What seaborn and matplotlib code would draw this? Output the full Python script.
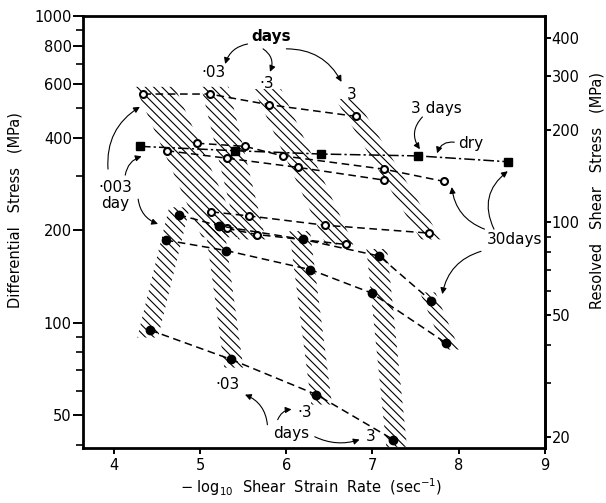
import matplotlib
matplotlib.use('Agg')
import matplotlib.pyplot as plt
from matplotlib.ticker import LogLocator, NullFormatter
import seaborn as sns

# open circles (wet), upper group
rate_a = [4.34, 5.11, 5.80, 6.81]
stress_a = [557, 557, 514, 471]
rate_b = [4.96, 5.52, 5.96, 7.13, 7.83]
stress_b = [385, 376, 350, 317, 289]
rate_c = [4.61, 5.31, 6.14, 7.13]
stress_c = [364, 344, 321, 292]
rate_d = [5.13, 5.57, 6.45, 7.66]
stress_d = [230, 223, 208, 196]
rate_e = [5.31, 5.66, 6.69]
stress_e = [203, 194, 180]

# dry (squares)
rate_dry = [4.30, 5.40, 6.40, 7.53, 8.57]
stress_dry = [376, 364, 355, 350, 335]

# filled circles, lower group
rate_f = [4.75, 5.22, 6.19, 7.08, 7.68]
stress_f = [225, 207, 187, 165, 118]
rate_g = [4.60, 5.30, 6.28, 6.99, 7.85]
stress_g = [186, 172, 149, 125, 86]
rate_h = [4.42, 5.36, 6.35, 7.24]
stress_h = [94.6, 75.9, 58.3, 41.6]

# hatched isochron bands: top / bottom centre and half width (in rate units)
band_x_top = [4.475, 5.17, 5.78, 6.69, 4.76, 5.16, 6.155, 7.05, 7.64]
band_y_top = [588, 588, 578, 537, 238, 214, 199, 174, 125.6]
band_x_bot = [5.25, 5.60, 6.62, 7.68, 4.39, 5.39, 6.41, 7.28, 7.92]
band_y_bot = [190, 187, 180, 187, 89.5, 71.4, 54.1, 39.4, 81.8]
band_hw = [0.23, 0.16, 0.16, 0.12, 0.12, 0.11, 0.12, 0.12, 0.09]

RATIO = 0.471  # resolved shear / differential stress

left_ticks = [50, 100, 200, 400, 600, 800, 1000]
right_ticks = [20, 50, 100, 200, 300, 400]
x_ticks = [4, 5, 6, 7, 8, 9]

sns.set_theme(style='white')
plt.rcParams['font.family'] = ['DejaVu Sans']
plt.rcParams['hatch.linewidth'] = 0.8
for k in ['text.color', 'axes.labelcolor', 'xtick.color', 'ytick.color']:
    plt.rcParams[k] = 'black'

fig = plt.figure(figsize=(6.06, 5.03), dpi=100)
ax = fig.add_axes([0.137, 0.109, 0.762, 0.859])
ax.set_yscale('log')

for xt, yt, xb, yb, hw in zip(band_x_top, band_y_top, band_x_bot, band_y_bot, band_hw):
    ax.fill([xt - hw, xt + hw, xb + hw, xb - hw], [yt, yt, yb, yb],
            facecolor='none', edgecolor='black', hatch='\\\\\\\\', linewidth=0, zorder=1)

dash = (0, (5, 3))
open_kw = dict(color='black', lw=1.1, ls=dash, marker='o', ms=5, mfc='white', mec='black', mew=1.5)
fill_kw = dict(color='black', lw=1.1, ls=dash, marker='o', ms=6, mfc='black', mec='black', mew=1)

for rx, sy in [(rate_a, stress_a), (rate_b, stress_b), (rate_c, stress_c),
               (rate_d, stress_d), (rate_e, stress_e)]:
    sns.lineplot(x=rx, y=sy, ax=ax, estimator=None, zorder=3, **open_kw)
for rx, sy in [(rate_f, stress_f), (rate_g, stress_g), (rate_h, stress_h)]:
    sns.lineplot(x=rx, y=sy, ax=ax, estimator=None, zorder=3, **fill_kw)
sns.lineplot(x=rate_dry, y=stress_dry, ax=ax, estimator=None, zorder=3, color='black', lw=1.1,
             ls=(0, (7, 2, 1.5, 2)), marker='s', ms=6, mfc='black', mec='black', mew=1)

ax.set_xlim(3.64, 9.0)
ax.set_ylim(39, 1000)
ax.set_xticks(x_ticks)
ax.set_xticklabels([str(v) for v in x_ticks])
ax.set_yticks(left_ticks)
ax.set_yticklabels([str(v) for v in left_ticks])
ax.yaxis.set_minor_locator(LogLocator(base=10, subs=range(2, 10), numticks=20))
ax.yaxis.set_minor_formatter(NullFormatter())

for s in ax.spines.values():
    s.set_linewidth(2)
    s.set_color('black')
ax.tick_params(axis='y', which='major', direction='out', length=7, width=1.4, pad=1, labelsize=10.5, left=True)
ax.tick_params(axis='y', which='minor', direction='out', length=5, width=1.2, left=True)
ax.tick_params(axis='x', which='major', direction='out', length=4, width=1.4, pad=3, labelsize=10.5, bottom=True)

sec = ax.secondary_yaxis('right', functions=(lambda v: v * RATIO, lambda v: v / RATIO))
sec.set_yticks(right_ticks)
sec.set_yticklabels([str(v) for v in right_ticks])
sec.yaxis.set_minor_locator(LogLocator(base=10, subs=range(2, 10), numticks=20))
sec.yaxis.set_minor_formatter(NullFormatter())
sec.spines['right'].set_linewidth(2)
sec.tick_params(axis='y', which='major', direction='out', length=4, width=1.4, pad=1, labelsize=10.5)
sec.tick_params(axis='y', which='minor', direction='out', length=4, width=1.2)

ax.set_ylabel('Differential   Stress   (MPa)', fontsize=10.5)
ax.yaxis.set_label_coords(-0.13, 0.551)
sec.set_ylabel('Resolved   Shear   Stress   (MPa)', fontsize=10.5, rotation=90)
sec.yaxis.set_label_coords(1.097, 0.597, transform=ax.transAxes)
ax.set_xlabel(r'$-$ log$_{10}$  Shear  Strain  Rate  (sec$^{-1}$)', fontsize=10.5)
ax.xaxis.set_label_coords(0.494, -0.066)

# text labels
label_text = ['days', '·03', '·3', '3', '3 days', 'dry', '30days', '·003', 'day',
              '·03', '·3', 'days', '3']
label_x = [5.82, 5.15, 5.77, 6.76, 7.74, 8.14, 8.65, 4.02, 4.01, 5.32, 6.21, 6.06, 6.98]
label_y = [855, 653, 601, 557, 498, 383, 187, 277, 245, 62.8, 50.9, 43.5, 42.5]
for t, lx, ly in zip(label_text, label_x, label_y):
    ax.text(lx, ly, t, fontsize=11, ha='center', va='center', zorder=5,
            fontweight='bold' if t == 'days' and ly > 500 else 'normal')

# wavy pointer arrows
arrow_from = [(5.55, 811), (5.73, 782), (6.00, 782), (3.93, 317), (4.13, 303), (4.28, 253),
              (7.58, 469), (7.95, 388), (8.30, 202), (8.41, 202), (8.26, 171),
              (5.78, 46.5), (5.90, 48.3), (6.33, 42.5)]
arrow_to = [(5.29, 698), (5.81, 658), (6.64, 610), (4.30, 506), (4.32, 349), (4.51, 210),
            (7.55, 368), (7.75, 357), (7.92, 277), (8.57, 312), (7.81, 124),
            (5.52, 58.3), (6.06, 52.2), (6.85, 41.6)]
arrow_rad = [0.3, -0.4, -0.3, -0.3, -0.3, 0.3, 0.4, 0.4, -0.3, -0.4, 0.3, 0.3, -0.3, 0.2]
for (x0, y0), (x1, y1), rad in zip(arrow_from, arrow_to, arrow_rad):
    ax.annotate('', xy=(x1, y1), xytext=(x0, y0), zorder=5,
                arrowprops=dict(arrowstyle='-|>', color='black', lw=0.8, mutation_scale=9,
                                shrinkA=0, shrinkB=0, connectionstyle=f'arc3,rad={rad}'))

plt.savefig('out.png', dpi=100)
